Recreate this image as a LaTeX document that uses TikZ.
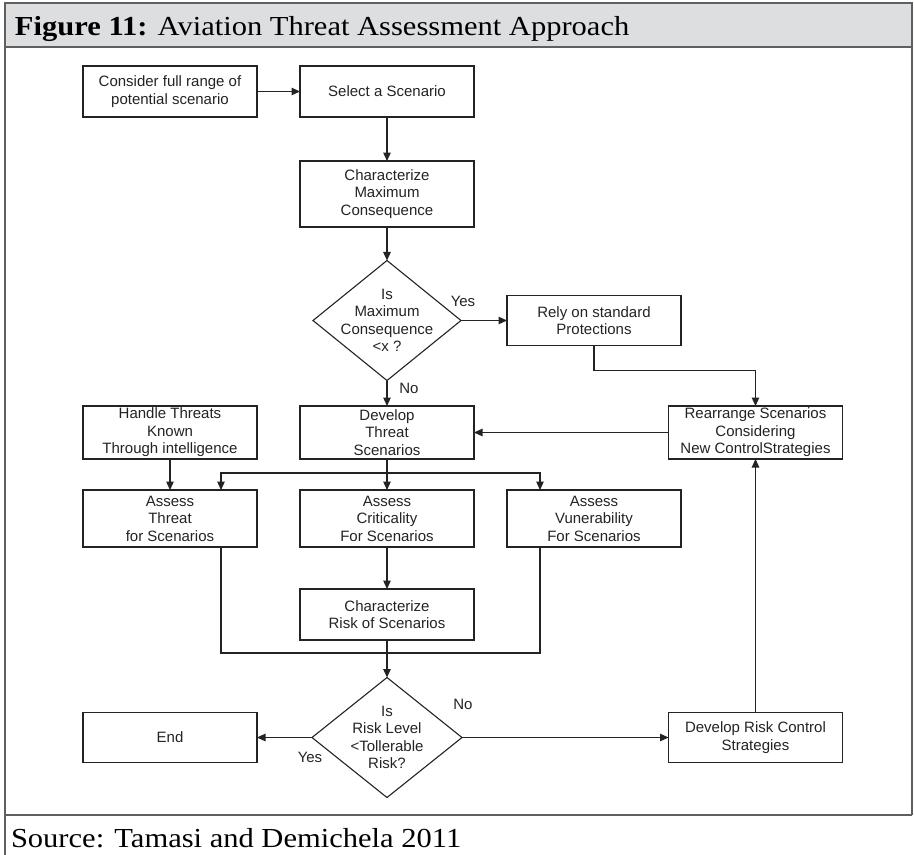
\documentclass[tikz,border=0pt]{standalone}
\usepackage{fontspec}
\setmainfont{Liberation Serif}
\newfontfamily\boxfont{Liberation Sans}
\usetikzlibrary{shapes.geometric,arrows.meta}

\definecolor{hdrfill}{RGB}{221,222,224}
\definecolor{framegray}{RGB}{95,95,95}
\definecolor{ink}{RGB}{35,35,35}

\begin{document}
\begin{tikzpicture}[x=1pt,y=-1pt,
  every node/.style={inner sep=0pt,outer sep=0pt},
  box/.style={draw=ink,line width=1.3pt,minimum width=174pt,align=center,
    text=ink,font=\boxfont\fontsize{15}{17.5}\selectfont},
  decision/.style={diamond,draw=ink,line width=1.1pt,minimum width=148pt,minimum height=120pt},
  dtext/.style={align=center,text=ink,font=\boxfont\fontsize{15}{17.5}\selectfont},
  lbl/.style={text=ink,font=\boxfont\fontsize{15}{17.5}\selectfont},
  link/.style={draw=ink,line width=1.2pt},
  arr/.style={link,-{Triangle[length=8.5pt,width=7.5pt]}},
  frameline/.style={draw=framegray,line width=2.2pt},
  caption/.style={anchor=base west,text=black,font=\fontsize{27.5}{30}\selectfont}
]
\useasboundingbox (0,0) rectangle (914,855);

% frame, title band and footer rule
\fill[hdrfill] (5,3) rectangle (912,47);
\draw[frameline] (5,855) -- (5,3) -- (912,3) -- (912,815);
\draw[frameline] (5,47) -- (912,47);
\draw[frameline] (5,815) -- (912,815);

\node[caption] (title) at (15,35) {\scalebox{1.11}[1]{\textbf{Figure 11:} Aviation Threat Assessment Approach}};
\node[caption] (source) at (11,847) {\scalebox{1.11}[1]{Source: Tamasi and Demichela 2011}};

% process boxes
\node[box,minimum height=51pt] (consider) at (170,91.5) {Consider full range of\\potential scenario};
\node[box,minimum height=51pt] (select) at (387,91.5) {Select a Scenario};
\node[box,minimum height=66pt] (charmax) at (387,194) {Characterize\\Maximum\\Consequence};
\node[decision] (d1) at (387,320.5) {};
\node[dtext] (d1t) at (387,320.5) {Is\\Maximum\\Consequence\\<x ?};
\node[box,minimum height=50pt] (rely) at (594,320.5) {Rely on standard\\Protections};

\node[box,minimum height=53pt] (handle) at (170,432.5) {Handle Threats\\Known\\Through intelligence};
\node[box,minimum height=53pt] (develop) at (387,432.5) {Develop\\Threat\\Scenarios};
\node[box,minimum height=53pt] (rearrange) at (755.5,432.5) {Rearrange Scenarios\\Considering\\New ControlStrategies};

\node[box,minimum height=57pt] (threat) at (170,518.5) {Assess\\Threat\\for Scenarios};
\node[box,minimum height=57pt] (crit) at (387,518.5) {Assess\\Criticality\\For Scenarios};
\node[box,minimum height=57pt] (vul) at (594,518.5) {Assess\\Vunerability\\For Scenarios};

\node[box,minimum height=51pt] (charrisk) at (387,614.5) {Characterize\\Risk of Scenarios};

\node[decision,minimum width=150pt] (d2) at (387,737.5) {};
\node[dtext] (d2t) at (387,737.5) {Is\\Risk Level\\<Tollerable\\Risk?};
\node[box,minimum height=50pt] (end) at (170,737.5) {End};
\node[box,minimum height=50pt] (devrisk) at (755.5,737.5) {Develop Risk Control\\Strategies};

% branch labels
\node[lbl] (yes1) at (463,301) {Yes};
\node[lbl] (no1) at (409,388) {No};
\node[lbl] (no2) at (463,704) {No};
\node[lbl] (yes2) at (310,757) {Yes};

% connectors
\coordinate (split) at (387,473);
\coordinate (merge) at (387,653);

\draw[arr] (consider) -- (select);
\draw[arr] (select) -- (charmax);
\draw[arr] (charmax) -- (d1);
\draw[arr] (d1.east) -- (d1.east -| rely.west);
\draw[arr] (d1) -- (develop);
\draw[arr] (rely.south) -- ++(0,25) -| (rearrange.north);
\draw[arr] (rearrange.west) -- (develop.east);

\draw[link] (develop.south) -- (split);
\draw[arr] (split) -- (crit.north);
\draw[arr] (split) -| ([xshift=51pt]threat.north);
\draw[arr] (split) -| ([xshift=-54pt]vul.north);
\draw[arr] (handle) -- (threat);
\draw[arr] (crit) -- (charrisk);

\draw[link] ([xshift=51pt]threat.south) |- (merge);
\draw[link] ([xshift=-54pt]vul.south) |- (merge);
\draw[arr] (charrisk) -- (d2);

\draw[arr] (d2.west) -- (end.east);
\draw[arr] (d2.east) -- (devrisk.west);
\draw[arr] (devrisk) -- (rearrange);
\end{tikzpicture}
\end{document}
